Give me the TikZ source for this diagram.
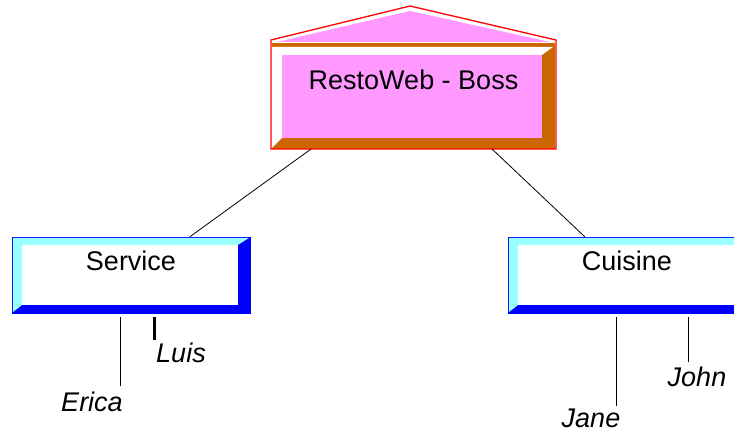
\documentclass[tikz,border=0pt]{standalone}
\usepackage{fontspec}
\setmainfont{Liberation Sans}
\usepackage{tikz}
\usetikzlibrary{positioning}

\definecolor{bossface}{HTML}{FF99FF}
\definecolor{bossedge}{HTML}{CC6600}
\definecolor{deptedge}{HTML}{0000FF}
\definecolor{deptlight}{HTML}{99FFFF}

\begin{document}
\begin{tikzpicture}[x=1pt, y=1pt,
        boss/.style={rectangle, draw=none, fill=bossedge, minimum width=283pt, minimum height=106pt, inner sep=0pt},
        dept/.style={rectangle, draw=deptedge, fill=deptedge, minimum width=238pt, minimum height=76pt, inner sep=0pt},
        title/.style={font=\fontsize{27}{32}\selectfont, inner sep=0pt},
        member/.style={font=\fontsize{27}{32}\selectfont\itshape, inner sep=0pt}
      ]
        \useasboundingbox (0,0) rectangle (734,434);

        % house of the boss
        \fill[white] (271,285) -- (271,394) -- (410,428) -- (556,394) -- (556,285) -- cycle;
        \fill[bossface] (277,392) -- (410,423) -- (550,392) -- cycle;
        \node[boss]   (boss)     at (413.5,338)  {};
        \fill[white] ([yshift=-4pt]boss.north west) -- ([shift={(-2pt,-4pt)}]boss.north east)
            -- ([shift={(-13pt,-12pt)}]boss.north east) -- ([shift={(10pt,-12pt)}]boss.north west)
            -- ([shift={(10pt,11pt)}]boss.south west) -- ([yshift=1pt]boss.south west) -- cycle;
        \fill[bossface] ([shift={(10pt,-12pt)}]boss.north west) rectangle ([shift={(-13pt,11pt)}]boss.south east);
        \draw[red, line width=1.3pt] (271,285) -- (271,394) -- (410,428) -- (556,394) -- (556,285) -- cycle;
        \node[title]  (bosstitle) [below=27pt of boss.north]  {RestoWeb - Boss};

        % departments
        \node[dept]   (service)  at (131,159)  {};
        \fill[deptlight] ([shift={(1pt,-1pt)}]service.north west) -- ([shift={(-1pt,-1pt)}]service.north east)
            -- ([shift={(-12pt,-8pt)}]service.north east) -- ([shift={(10pt,-8pt)}]service.north west)
            -- ([shift={(10pt,8pt)}]service.south west) -- ([shift={(1pt,1pt)}]service.south west) -- cycle;
        \fill[white] ([shift={(10pt,-8pt)}]service.north west) rectangle ([shift={(-12pt,8pt)}]service.south east);
        \node[title]  (servicetitle) [below=14pt of service.north]  {Service};

        \node[dept]   (cuisine)  at (627,159)  {};
        \fill[deptlight] ([shift={(1pt,-1pt)}]cuisine.north west) -- ([shift={(-1pt,-1pt)}]cuisine.north east)
            -- ([shift={(-12pt,-8pt)}]cuisine.north east) -- ([shift={(10pt,-8pt)}]cuisine.north west)
            -- ([shift={(10pt,8pt)}]cuisine.south west) -- ([shift={(1pt,1pt)}]cuisine.south west) -- cycle;
        \fill[white] ([shift={(10pt,-8pt)}]cuisine.north west) rectangle ([shift={(-12pt,8pt)}]cuisine.south east);
        \node[title]  (cuisinetitle) [below=14pt of cuisine.north]  {Cuisine};

        \draw[black, line width=0.8pt]  ([xshift=39pt]boss.south west) -- ([xshift=178pt]service.north west);
        \draw[black, line width=0.8pt]  ([xshift=-63pt]boss.south east) -- ([xshift=77pt]cuisine.north west);

        % members
        \node[member] (erica)  at (92,32)   {Erica};
        \node[member] (luis)   at (181,81)  {Luis};
        \node[member] (jane)   at (591,16)  {Jane};
        \node[member] (john)   at (697,57)  {John};

        \draw[line width=1pt]  ([xshift=28pt,yshift=6pt]erica.north) -- ([xshift=28pt,yshift=-4pt]erica.north |- service.south);
        \draw[line width=3pt]  ([xshift=-27pt,yshift=3pt]luis.north) -- ([xshift=-27pt,yshift=-4pt]luis.north |- service.south);
        \draw[line width=1pt]  ([xshift=25pt,yshift=2.5pt]jane.north) -- ([xshift=25pt,yshift=-4pt]jane.north |- cuisine.south);
        \draw[line width=1pt]  ([xshift=-9pt,yshift=4.5pt]john.north) -- ([xshift=-9pt,yshift=-4pt]john.north |- cuisine.south);
      \end{tikzpicture}
\end{document}
